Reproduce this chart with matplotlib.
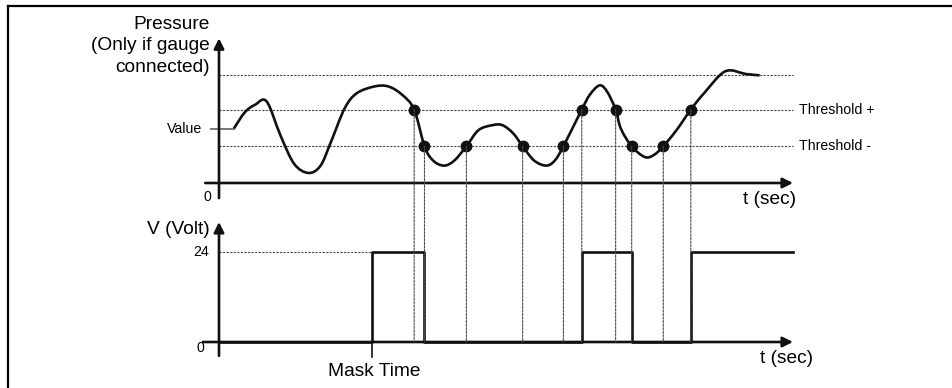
import matplotlib
matplotlib.use("Agg")
import matplotlib.pyplot as plt
import numpy as np
from matplotlib.lines import Line2D
from matplotlib.path import Path
from matplotlib.patches import PathPatch, ConnectionPatch

plt.rcParams['font.family'] = ['Liberation Sans', 'DejaVu Sans']

# pressure curve (t in sec, pressure in arbitrary units)
curve_t = [0.26, 0.45, 0.63, 0.83, 1.07, 1.31, 1.56, 1.77, 1.95, 2.19, 2.40, 2.71, 2.95, 3.19,
           3.40, 3.58, 3.73, 3.92, 4.10, 4.31, 4.52, 4.76, 4.94, 5.13, 5.29, 5.49, 5.70, 5.85,
           6.00, 6.32, 6.46, 6.63, 6.76, 6.91, 7.00, 7.19, 7.42, 7.58, 7.74, 7.97, 8.22, 8.45,
           8.82, 9.18, 9.42]
curve_p = [5.05, 6.55, 7.25, 7.55, 4.42, 1.77, 0.93, 1.61, 3.80, 6.92, 8.31, 8.94, 8.94, 8.17,
           6.8, 3.4, 2.08, 1.61, 2.08, 3.4, 4.89, 5.35, 5.35, 4.57, 3.4, 2.08, 1.61, 2.08,
           3.4, 6.8, 8.17, 9.04, 8.47, 6.8, 5.05, 3.4, 2.40, 2.61, 3.4, 4.89, 6.8, 8.31,
           10.34, 10.09, 9.97]

# threshold crossings
cross_t = [3.40, 3.58, 4.31, 5.29, 6.00, 6.32, 6.91, 7.19, 7.74, 8.22]
cross_p = [6.8, 3.4, 3.4, 3.4, 3.4, 6.8, 6.8, 3.4, 3.4, 6.8]

value_p = 5.0
thr_plus = 6.8
thr_minus = 3.4
p_max = 10.0

# output voltage
mask_time = 2.67
v_t = [0, 2.67, 3.58, 6.32, 7.19, 8.22, 10.0]
v_level = [0, 24, 0, 24, 0, 24, 24]

W, H = 953, 388
fig = plt.figure(figsize=(W / 100, H / 100), dpi=100)

# px layout: t=0 at x=219, t=10 at x=793
ax1 = fig.add_axes([219 / W, (H - 183) / H, 574 / W, 108 / H])
ax2 = fig.add_axes([219 / W, (H - 342) / H, 574 / W, 90 / H])
for ax in (ax1, ax2):
    ax.set_xlim(0, 10)
    ax.axis('off')
ax1.set_ylim(0, 10)
ax2.set_ylim(0, 24)

black = '#111111'
dot_col = '#4a4a4a'
ls_dot = (0, (2.0, 1.2))
big = 13.8
small = 10.2

# frame (top and left edge)
fig.add_artist(Line2D([8 / W, 1], [1 - 6 / H, 1 - 6 / H], color='black', lw=1.6))
fig.add_artist(Line2D([8 / W, 8 / W], [0, 1 - 6 / H], color='black', lw=1.6))

arrow = dict(arrowstyle='-|>', color=black, lw=1.9, mutation_scale=15, shrinkA=0, shrinkB=0)

# upper panel
ax1.annotate('', xy=(10.0, 0), xytext=(-0.24, 0), arrowprops=arrow, annotation_clip=False)
ax1.annotate('', xy=(0, 13.4), xytext=(0, -1.4), arrowprops=arrow, annotation_clip=False)

for lvl in (p_max, thr_plus, thr_minus):
    ax1.plot([0, 10], [lvl, lvl], color=dot_col, lw=0.8, ls=ls_dot, clip_on=False)

ax1.plot([-0.14, 0.26], [value_p, value_p], color='#777777', lw=1.4, clip_on=False)

# smooth curve through the read points
pts = np.column_stack([curve_t, curve_p])
verts = [pts[0]]
codes = [Path.MOVETO]
n = len(pts)
for i in range(n - 1):
    p0 = pts[max(i - 1, 0)]
    p1 = pts[i]
    p2 = pts[i + 1]
    p3 = pts[min(i + 2, n - 1)]
    verts += [p1 + (p2 - p0) / 6, p2 - (p3 - p1) / 6, p2]
    codes += [Path.CURVE4] * 3
ax1.add_patch(PathPatch(Path(verts, codes), fill=False, edgecolor=black, lw=1.9,
                        clip_on=False, zorder=3))

ax1.plot(cross_t, cross_p, 'o', color=black, ms=7.5, clip_on=False, zorder=4)

ax1.text(-0.16, 12.7, 'Pressure\n(Only if gauge\nconnected)', ha='right', va='center',
         multialignment='right', fontsize=big, linespacing=1.35)
ax1.text(-0.30, value_p, 'Value', ha='right', va='center', fontsize=small)
ax1.text(-0.21, -1.3, '0', ha='center', va='center', fontsize=small)
ax1.text(10.1, thr_plus, 'Threshold +', ha='left', va='center', fontsize=small)
ax1.text(10.1, thr_minus, 'Threshold -', ha='left', va='center', fontsize=small)
ax1.text(9.6, -1.57, 't (sec)', ha='center', va='center', fontsize=big)

# lower panel
ax2.annotate('', xy=(10.0, 0), xytext=(-0.28, 0), arrowprops=arrow, annotation_clip=False)
ax2.annotate('', xy=(0, 32), xytext=(0, -3.7), arrowprops=arrow, annotation_clip=False)
ax2.plot([0, mask_time], [24, 24], color=dot_col, lw=0.8, ls=ls_dot, clip_on=False)
ax2.plot(v_t, v_level, drawstyle='steps-post', color=black, lw=1.9, clip_on=False, zorder=3)
ax2.plot([mask_time, mask_time], [0, -4], color=black, lw=1.2, clip_on=False)

ax2.text(-0.16, 30.1, 'V (Volt)', ha='right', va='center', fontsize=big)
ax2.text(-0.17, 24, '24', ha='right', va='center', fontsize=small)
ax2.text(-0.33, -1.6, '0', ha='center', va='center', fontsize=small)
ax2.text(9.88, -4.5, 't (sec)', ha='center', va='center', fontsize=big)
ax2.text(2.70, -8.0, 'Mask Time', ha='center', va='center', fontsize=big)

# drop lines from each crossing down to the voltage axis
for t, p in zip(cross_t, cross_p):
    fig.add_artist(ConnectionPatch(xyA=(t, p), coordsA=ax1.transData,
                                   xyB=(t, 0), coordsB=ax2.transData,
                                   color=dot_col, lw=0.8, linestyle=ls_dot, zorder=1))

fig.savefig('out.png', dpi=100)
